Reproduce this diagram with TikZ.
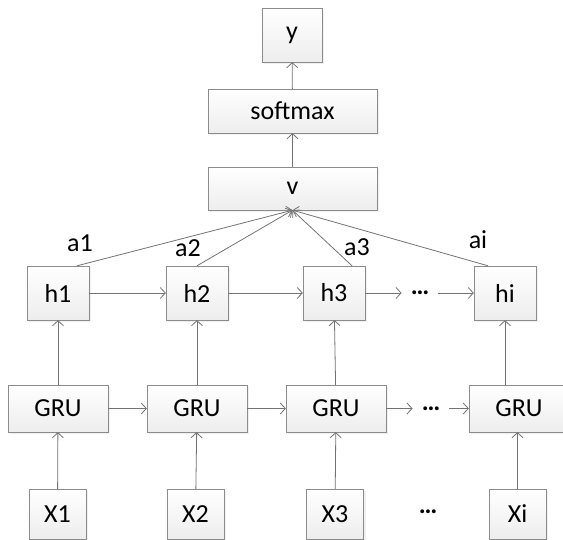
\documentclass[tikz,border=0pt]{standalone}
\usepackage{fontspec}
\setmainfont{Carlito}
\usetikzlibrary{positioning,arrows.meta,shadows}
\tikzset{boxnode/.style={rectangle, draw=black!45, top color=white, bottom color=black!7, drop shadow={shadow xshift=2pt, shadow yshift=-2pt, opacity=0.12}, font=\fontsize{26}{30}\selectfont, inner sep=0pt},
hbox/.style={boxnode, minimum width=62pt, minimum height=54pt},
grubox/.style={boxnode, minimum width=100pt, minimum height=47pt},
xbox/.style={boxnode, minimum width=57pt, minimum height=50pt},
wordnode/.style={font=\fontsize{26}{30}\selectfont, inner sep=0pt},
dotsnode/.style={font=\fontsize{26}{30}\selectfont\bfseries, inner ysep=2pt, inner xsep=9pt},
link/.style={draw=black!55, line width=0.8pt, -{Straight Barb[length=5pt,width=11pt]}},}

\begin{document}
\begin{tikzpicture}[x=1pt, y=-1pt]
\useasboundingbox (0,0) rectangle (563,540);
\node [boxnode, minimum width=60pt, minimum height=54pt] (y) at (292,35) {y};
\node [boxnode, minimum width=169pt, minimum height=44pt] (softmax) at (292.5,111) {softmax};
\node [boxnode, minimum width=169pt, minimum height=43pt] (v) at (292.5,188.5) {v};

\node [hbox] (h1) at (58,293) {h1};
\node [hbox] (h2) at (197,293) {h2};
\node [hbox] (h3) at (334,293) {h3};
\node [dotsnode] (hdots) at (420,293) {…};
\node [hbox] (hi) at (505,293) {hi};

\node [grubox] (gru1) at (58,408.5) {GRU};
\node [grubox] (gru2) at (197,408.5) {GRU};
\node [grubox] (gru3) at (336,408.5) {GRU};
\node [dotsnode] (grudots) at (431,408.5) {…};
\node [grubox] (gru4) at (519,408.5) {GRU};

\node [xbox] (x1) at (57.5,514) {X1};
\node [xbox] (x2) at (195.5,514) {X2};
\node [xbox] (x3) at (335,514) {X3};
\node [dotsnode] (xdots) at (428,512) {…};
\node [xbox] (xi) at (517.5,514) {Xi};

\node [wordnode] (a1) at (80,243) {a1};
\node [wordnode] (a2) at (188,248) {a2};
\node [wordnode] (a3) at (357,247) {a3};
\node [wordnode] (ai) at (478,240) {ai};

\draw[link] (softmax) -- (y);
\draw[link] (v) -- (softmax);
\draw[link] ([xshift=19pt]h1.north) -- (v.south);
\draw[link] (h2.north) -- (v.south);
\draw[link] ([xshift=18pt]h3.north) -- (v.south);
\draw[link] ([xshift=-17pt]hi.north) -- (v.south);

\draw[link] (h1) -- (h2);
\draw[link] (h2) -- (h3);
\draw[link] (h3) -- (hdots);
\draw[link] (hdots) -- (hi);

\draw[link] (gru1) -- (h1);
\draw[link] (gru2) -- (h2);
\draw[link] (gru3) -- (h3);
\draw[link] (hi |- gru4.north) -- (hi);

\draw[link] (gru1) -- (gru2);
\draw[link] (gru2) -- (gru3);
\draw[link] (gru3) -- (grudots);
\draw[link] (grudots) -- (gru4);

\draw[link] (x1) -- (gru1);
\draw[link] (x2) -- (gru2);
\draw[link] (x3) -- (gru3);
\draw[link] (xi) -- (gru4.south -| xi);
\end{tikzpicture}
\end{document}
